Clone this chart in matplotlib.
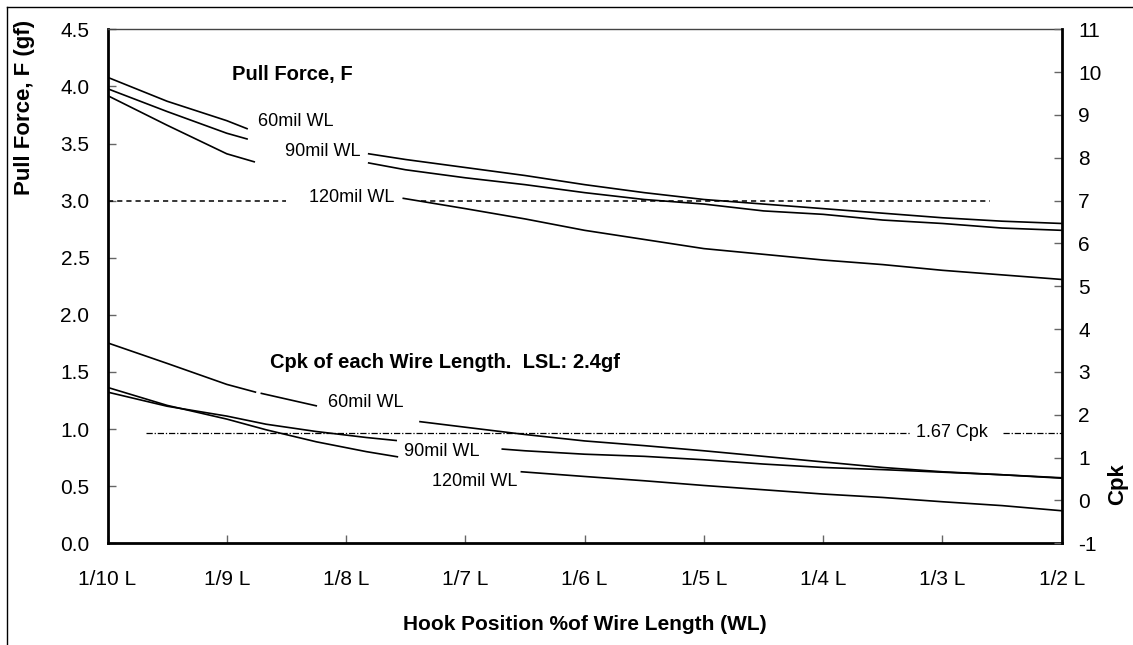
import matplotlib
matplotlib.use("Agg")
import matplotlib.pyplot as plt
from matplotlib.lines import Line2D
import numpy as np

plt.rcParams['font.family'] = ['Liberation Sans', 'DejaVu Sans']

# ---------------- data ----------------
CATEGORIES = ['1/10 L', '1/9 L', '1/8 L', '1/7 L', '1/6 L', '1/5 L', '1/4 L', '1/3 L', '1/2 L']

# Pull force (gf), x in category units (0 = 1/10 L ... 8 = 1/2 L)
F60_X = [0, 0.5, 1, 1.17, 2.19, 2.5, 3, 3.5, 4, 4.5, 5, 5.5, 6, 6.5, 7, 7.5, 8]
F60 = [4.08, 3.87, 3.70, 3.63, 3.41, 3.36, 3.29, 3.22, 3.14, 3.07, 3.01, 2.97, 2.93, 2.89, 2.85, 2.82, 2.80]
F90_X = [0, 0.5, 1, 1.17, 2.19, 2.5, 3, 3.5, 4, 4.5, 5, 5.5, 6, 6.5, 7, 7.5, 8]
F90 = [3.98, 3.78, 3.59, 3.54, 3.33, 3.27, 3.20, 3.14, 3.07, 3.01, 2.97, 2.91, 2.88, 2.83, 2.80, 2.76, 2.74]
F120_X = [0, 0.5, 1, 1.23, 2.48, 3, 3.5, 4, 4.5, 5, 5.5, 6, 6.5, 7, 7.5, 8]
F120 = [3.92, 3.66, 3.41, 3.34, 3.02, 2.93, 2.84, 2.74, 2.66, 2.58, 2.53, 2.48, 2.44, 2.39, 2.35, 2.31]

# Cpk
C60_X = [0, 0.5, 1, 1.24, 1.29, 1.75, 2.62, 3, 3.5, 4, 4.5, 5, 5.5, 6, 6.5, 7, 7.5, 8]
C60 = [3.68, 3.20, 2.71, 2.53, 2.50, 2.21, 1.84, 1.71, 1.54, 1.39, 1.28, 1.16, 1.03, 0.90, 0.77, 0.67, 0.60, 0.52]
C90_X = [0, 0.5, 1, 1.33, 1.75, 2.17, 2.42, 3.31, 3.5, 4, 4.5, 5, 5.5, 6, 6.5, 7, 7.5, 8]
C90 = [2.53, 2.20, 1.97, 1.78, 1.61, 1.47, 1.40, 1.20, 1.16, 1.08, 1.03, 0.95, 0.85, 0.77, 0.72, 0.66, 0.60, 0.53]
C120_X = [0, 0.5, 1, 1.33, 1.75, 2.17, 2.43, 3.47, 4, 4.5, 5, 5.5, 6, 6.5, 7, 7.5, 8]
C120 = [2.64, 2.22, 1.90, 1.65, 1.37, 1.14, 1.02, 0.67, 0.56, 0.46, 0.35, 0.25, 0.15, 0.07, -0.03, -0.12, -0.24]

F_REF = 3.0      # dashed reference on pull-force axis
CPK_REF = 1.57   # dash-dot "1.67 Cpk" reference as drawn on Cpk axis

LEFT_TICKS = [0.0, 0.5, 1.0, 1.5, 2.0, 2.5, 3.0, 3.5, 4.0, 4.5]
RIGHT_TICKS = [-1, 0, 1, 2, 3, 4, 5, 6, 7, 8, 9, 10, 11]

# ---------------- style (visible segments where labels interrupt lines) ----------------
SEG_F60 = [(0, 1.17), (2.19, 8)]
SEG_F90 = [(0, 1.17), (2.19, 8)]
SEG_F120 = [(0, 1.23), (2.48, 8)]
SEG_C60 = [(0, 1.24), (1.29, 1.75), (2.62, 8)]
SEG_C90 = [(0, 2.42), (3.31, 8)]
SEG_C120 = [(0, 2.43), (3.47, 8)]
SEG_FREF = [(0, 1.50), (2.63, 7.40)]
SEG_CREF = [(0.32, 6.73), (7.51, 8.0)]

W, H = 1133, 645
fig = plt.figure(figsize=(W / 100, H / 100), dpi=100)
L, R, T, B = 107.5, 1061.7, 29.3, 543.3
ax = fig.add_axes([L / W, 1 - B / H, (R - L) / W, (B - T) / H])
ax2 = ax.twinx()

LW = 1.2


def draw_segments(axis, xs, ys, segs, **kw):
    xs = np.asarray(xs, float)
    ys = np.asarray(ys, float)
    for a, b in segs:
        m = (xs >= a - 1e-9) & (xs <= b + 1e-9)
        axis.plot(xs[m], ys[m], color='black', lw=LW, solid_joinstyle='round', **kw)


draw_segments(ax, F60_X, F60, SEG_F60)
draw_segments(ax, F90_X, F90, SEG_F90)
draw_segments(ax, F120_X, F120, SEG_F120)

for a, b in SEG_FREF:
    ax.plot([a, b], [F_REF, F_REF], color='black', lw=1.1, dashes=(3.4, 2.6))

draw_segments(ax2, C60_X, C60, SEG_C60)
draw_segments(ax2, C90_X, C90, SEG_C90)
draw_segments(ax2, C120_X, C120, SEG_C120)
for a, b in SEG_CREF:
    ax2.plot([a, b], [CPK_REF, CPK_REF], color='black', lw=0.9, dashes=(5, 1.5, 1, 1.5))

ax.set_xlim(0, 8)
ax.set_ylim(0, 4.5)
ax2.set_ylim(-1, 11)
ax.set_xticks(range(len(CATEGORIES)))
ax.set_xticklabels(CATEGORIES)
ax.set_yticks(LEFT_TICKS)
ax.set_yticklabels([f"{v:.1f}" for v in LEFT_TICKS])
ax2.set_yticks(RIGHT_TICKS)
ax2.set_yticklabels([str(v) for v in RIGHT_TICKS])

TICK_FS = 15
ax.tick_params(axis='x', direction='in', length=6, width=1, color='#666666',
               labelsize=TICK_FS, pad=19)
ax.tick_params(axis='y', direction='in', length=6, width=1, color='#666666',
               labelsize=TICK_FS, pad=13)
ax2.tick_params(axis='y', direction='in', length=6, width=1, color='#666666',
                labelsize=TICK_FS, pad=12)

for s in ['left', 'bottom']:
    ax.spines[s].set_linewidth(2)
ax.spines['top'].set_linewidth(1)
ax.spines['top'].set_color('#444444')
ax.spines['right'].set_visible(False)
for s in ['left', 'bottom', 'top']:
    ax2.spines[s].set_visible(False)
ax2.spines['right'].set_linewidth(2)

# annotations (positions in left-axis data coordinates)
NFS = 13
BFS = 14.5
ax.text(1.04, 4.10, 'Pull Force, F', fontsize=BFS, fontweight='bold', ha='left', va='center')
ax.text(1.26, 3.69, '60mil WL', fontsize=NFS, ha='left', va='center')
ax.text(1.49, 3.43, '90mil WL', fontsize=NFS, ha='left', va='center')
ax.text(1.69, 3.03, '120mil WL', fontsize=NFS, ha='left', va='center')
ax.text(1.36, 1.58, 'Cpk of each Wire Length.  LSL: 2.4gf', fontsize=BFS, fontweight='bold',
        ha='left', va='center')
ax.text(1.85, 1.23, '60mil WL', fontsize=NFS, ha='left', va='center')
ax.text(2.49, 0.80, '90mil WL', fontsize=NFS, ha='left', va='center')
ax.text(2.72, 0.545, '120mil WL', fontsize=NFS, ha='left', va='center')
ax.text(6.78, 0.966, '1.67 Cpk', fontsize=NFS, ha='left', va='center')

fig.text(584.6 / W, 1 - 625 / H, 'Hook Position %of Wire Length (WL)', fontsize=15,
         fontweight='bold', ha='center', va='center')
fig.text(25 / W, 1 - 107 / H, 'Pull Force, F (gf)', fontsize=16, fontweight='bold',
         rotation=90, ha='center', va='center')
fig.text(1118 / W, 1 - 484 / H, 'Cpk', fontsize=16, fontweight='bold',
         rotation=90, ha='center', va='center')

# outer frame (top and left edges visible)
fig.add_artist(Line2D([7 / W, 1], [1 - 7 / H, 1 - 7 / H], transform=fig.transFigure,
                      color='black', lw=1))
fig.add_artist(Line2D([7 / W, 7 / W], [0, 1 - 7 / H], transform=fig.transFigure,
                      color='black', lw=1))

fig.savefig('out.png', dpi=100)
